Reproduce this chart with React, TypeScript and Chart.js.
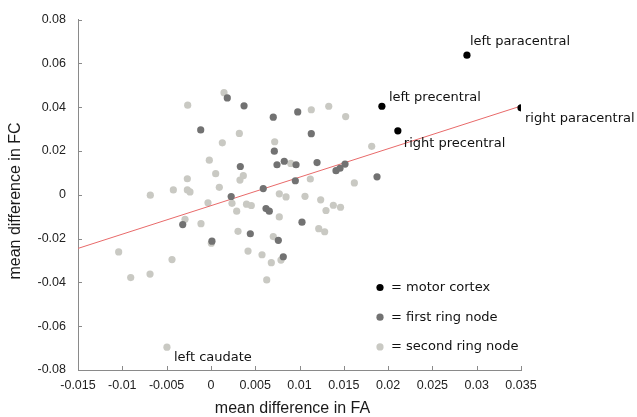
import React, { useEffect, useRef } from "react";
import { Chart, registerables } from "chart.js";

Chart.register(...registerables);

// ---------- data ----------
const X_TICKS = [-0.015, -0.01, -0.005, 0, 0.005, 0.01, 0.015, 0.02, 0.025, 0.03, 0.035];
const Y_TICKS = [-0.08, -0.06, -0.04, -0.02, 0, 0.02, 0.04, 0.06, 0.08];

const MOTOR_NAMES = ["left paracentral", "left precentral", "right paracentral", "right precentral"];
const MOTOR_X = [0.0289, 0.0193, 0.035, 0.0211];
const MOTOR_Y = [0.0637, 0.0404, 0.0397, 0.0292];

const FIRST_X = [
  0.00185, 0.00374, -0.00115, 0.00332, 0.00229, 0.00704, 0.0098, 0.01133, 0.00716,
  0.00746, 0.00828, 0.00961, 0.01198, 0.01412, 0.01457, 0.01514, 0.00953, 0.00591,
  0.01875, -0.00318, 0.00445, 0.00012, 0.00622, 0.00659, 0.01028, 0.00761, 0.00817,
];
const FIRST_Y = [
  0.0442, 0.0406, 0.0296, 0.0129, -0.0008, 0.0354, 0.0378, 0.0279, 0.0199,
  0.0137, 0.0153, 0.0137, 0.0147, 0.011, 0.0121, 0.014, 0.0064, 0.0028,
  0.0082, -0.0136, -0.0178, -0.0212, -0.0063, -0.0075, -0.0125, -0.0208, -0.0283,
];

const SECOND_X = [
  0.00148, -0.00262, 0.00321, 0.00129, -0.00018, 0.00054, 0.00366, 0.00328, -0.00266,
  -0.00684, -0.00424, -0.00266, -0.00236, 0.00095, -0.00033, 0.01133, 0.0133, 0.01521,
  0.0072, 0.01815, 0.00901, 0.01122, 0.01619, 0.00772, 0.00848, 0.01062, 0.01239,
  0.00238, 0.00402, 0.00291, -0.00292, -0.00112, 0.00306, 0.00005, -0.01041, 0.00419,
  -0.00439, -0.00687, -0.00905, 0.00456, 0.01299, 0.01382, 0.01463, 0.00772, 0.01217,
  0.01284, 0.00704, 0.00577, 0.00791, 0.00682, 0.0063, -0.00496,
];
const SECOND_Y = [
  0.0466, 0.0409, 0.028, 0.0237, 0.0158, 0.0096, 0.0087, 0.0067, 0.0073,
  -0.0002, 0.0022, 0.0022, 0.0013, 0.0034, -0.0037, 0.0388, 0.0404, 0.0357,
  0.0242, 0.0221, 0.0143, 0.0072, 0.0054, 0.0004, -0.001, -0.0007, -0.0023,
  -0.0039, -0.0043, -0.0075, -0.0112, -0.0132, -0.0167, -0.0221, -0.0261, -0.0257,
  -0.0296, -0.0362, -0.0378, -0.0049, -0.0072, -0.0048, -0.0057, -0.0101, -0.0155,
  -0.0169, -0.0191, -0.0274, -0.0298, -0.031, -0.0389, -0.0696,
];
const CAUDATE_NAME = "left caudate";
const CAUDATE_INDEX = 51;

const REG_X = [-0.015, 0.035];
const REG_Y = [-0.0245, 0.0405];

const LEGEND_LABELS = ["= motor cortex", "= first ring node", "= second ring node"];
const X_TITLE = "mean difference in FA";
const Y_TITLE = "mean difference in FC";

// ---------- styles ----------
const COLORS = ["#000000", "#727272", "#c9c9c3"];
const LINE_COLOR = "#e86a6a";
const AXIS_COLOR = "#8a8a8a";
const LABEL_FONT = '13px "DejaVu Sans"';
const MOTOR_LABEL_OFFSETS = [
  [3, -14],
  [7, -9],
  [4, 11],
  [6, 13],
];
const CAUDATE_OFFSET = [7, 10];

const fmt = (v: number) => String(Number(v.toFixed(4)));

const overlay = {
  id: "overlay",
  afterDraw(chart: any) {
    const ctx = chart.ctx;
    const xs = chart.scales.x;
    const ys = chart.scales.y;
    const area = chart.chartArea;
    ctx.save();
    // inward tick marks
    ctx.strokeStyle = AXIS_COLOR;
    ctx.lineWidth = 1;
    ctx.beginPath();
    X_TICKS.forEach((v) => {
      const px = Math.round(xs.getPixelForValue(v)) + 0.5;
      ctx.moveTo(px, area.bottom);
      ctx.lineTo(px, area.bottom - 4);
    });
    Y_TICKS.forEach((v) => {
      const py = Math.round(ys.getPixelForValue(v)) + 0.5;
      ctx.moveTo(area.left, py);
      ctx.lineTo(area.left + 4, py);
    });
    ctx.stroke();

    // point labels
    ctx.fillStyle = "#111";
    ctx.font = LABEL_FONT;
    ctx.textAlign = "left";
    ctx.textBaseline = "middle";
    MOTOR_NAMES.forEach((name, i) => {
      const px = xs.getPixelForValue(MOTOR_X[i]);
      const py = ys.getPixelForValue(MOTOR_Y[i]);
      ctx.fillText(name, px + MOTOR_LABEL_OFFSETS[i][0], py + MOTOR_LABEL_OFFSETS[i][1]);
    });
    {
      const px = xs.getPixelForValue(SECOND_X[CAUDATE_INDEX]);
      const py = ys.getPixelForValue(SECOND_Y[CAUDATE_INDEX]);
      ctx.fillText(CAUDATE_NAME, px + CAUDATE_OFFSET[0], py + CAUDATE_OFFSET[1]);
    }

    // legend
    LEGEND_LABELS.forEach((lab, i) => {
      const y = 287.5 + i * 29.7;
      ctx.fillStyle = COLORS[i];
      ctx.beginPath();
      ctx.arc(380, y, 3.6, 0, Math.PI * 2);
      ctx.fill();
      ctx.fillStyle = "#111";
      ctx.fillText(lab, 391, y);
    });

    // axis titles
    ctx.fillStyle = "#1a1a1a";
    ctx.font = '16px "Liberation Sans", Arial, sans-serif';
    ctx.textAlign = "center";
    ctx.textBaseline = "middle";
    ctx.fillText(X_TITLE, 292.5, 409);
    ctx.translate(16, 201);
    ctx.rotate(-Math.PI / 2);
    ctx.fillText(Y_TITLE, 0, 0);
    ctx.restore();
  },
};

export default function App() {
  const ref = useRef<HTMLCanvasElement | null>(null);
  useEffect(() => {
    if (!ref.current) return;
    const pts = (xs: number[], ys: number[]) => xs.map((x, i) => ({ x, y: ys[i] }));
    const chart = new Chart(ref.current, {
      type: "scatter",
      data: {
        datasets: [
          {
            label: "regression",
            type: "line",
            data: pts(REG_X, REG_Y),
            borderColor: LINE_COLOR,
            borderWidth: 1,
            pointRadius: 0,
            fill: false,
            order: 2,
          } as any,
          {
            label: LEGEND_LABELS[2],
            data: pts(SECOND_X, SECOND_Y),
            backgroundColor: COLORS[2],
            borderWidth: 0,
            pointRadius: 3.6,
            order: 3,
          },
          {
            label: LEGEND_LABELS[1],
            data: pts(FIRST_X, FIRST_Y),
            backgroundColor: COLORS[1],
            borderWidth: 0,
            pointRadius: 3.6,
            order: 1,
          },
          {
            label: LEGEND_LABELS[0],
            data: pts(MOTOR_X, MOTOR_Y),
            backgroundColor: COLORS[0],
            borderWidth: 0,
            pointRadius: 3.6,
            order: 0,
          },
        ],
      },
      options: {
        animation: false,
        responsive: false,
        maintainAspectRatio: false,
        layout: { padding: { top: 17, right: 116, left: 0, bottom: 0 } },
        plugins: { legend: { display: false }, tooltip: { enabled: false } },
        scales: {
          x: {
            type: "linear",
            min: -0.015,
            max: 0.035,
            afterBuildTicks: (s: any) => {
              s.ticks = X_TICKS.map((v) => ({ value: v }));
            },
            afterFit: (s: any) => {
              s.height = 47;
            },
            grid: { display: false, drawTicks: false },
            border: { display: true, color: AXIS_COLOR, width: 1 },
            ticks: {
              padding: 8,
              color: "#222",
              font: { family: '"Liberation Sans", Arial, sans-serif', size: 12.5 },
              maxRotation: 0,
              autoSkip: false,
              callback: (v: any) => fmt(Number(v)),
            },
          },
          y: {
            type: "linear",
            min: -0.08,
            max: 0.08,
            afterBuildTicks: (s: any) => {
              s.ticks = Y_TICKS.map((v) => ({ value: v }));
            },
            afterFit: (s: any) => {
              s.width = 78;
            },
            grid: { display: false, drawTicks: false },
            border: { display: true, color: AXIS_COLOR, width: 1 },
            ticks: {
              padding: 12,
              color: "#222",
              font: { family: '"Liberation Sans", Arial, sans-serif', size: 12.5 },
              autoSkip: false,
              callback: (v: any) => fmt(Number(v)),
            },
          },
        },
      },
      plugins: [overlay],
    } as any);
    return () => chart.destroy();
  }, []);
  return (
    <div style={{ position: "absolute", left: 0, top: 0, width: 637, height: 417, background: "#fff" }}>
      <canvas ref={ref} width={637} height={417} style={{ display: "block", width: 637, height: 417 }} />
    </div>
  );
}
